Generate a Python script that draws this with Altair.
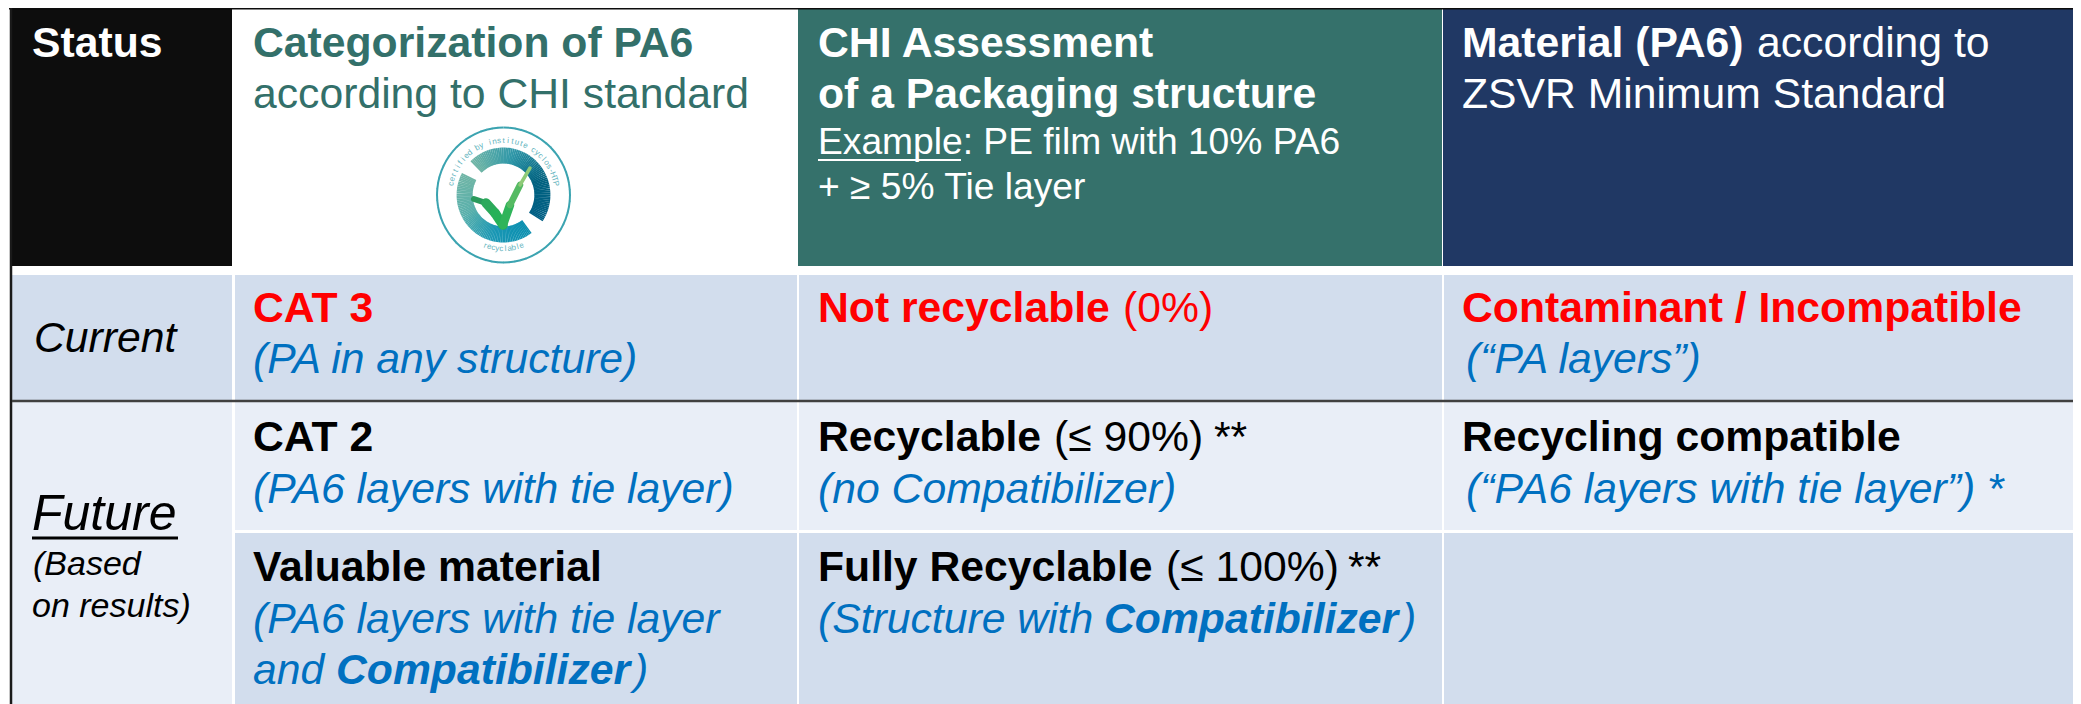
import math
import altair as alt
import pandas as pd

W, H = 2065, 696
FONT = "Liberation Sans"
BLACK, TEAL, NAVY = "#0d0d0d", "#35716b", "#203864"
LIGHT, PALE = "#d2dded", "#e9eef7"
RED, BLUE, TXT = "#ff0000", "#0070c0", "#000000"
M, S = 42.7, 37.2

# x0, x1, y0, y1, fill
cells = [
    (12, 232, 8, 266, BLACK), (232, 798, 8, 266, "#ffffff"),
    (798, 1442, 8, 266, TEAL), (1443, 2081, 8, 266, NAVY),
    (12, 232, 275, 400, LIGHT), (235, 797, 275, 400, LIGHT),
    (799, 1442, 275, 400, LIGHT), (1444, 2081, 275, 400, LIGHT),
    (12, 232, 402, 704, PALE), (235, 797, 402, 530, PALE),
    (799, 1442, 402, 530, PALE), (1444, 2081, 402, 530, PALE),
    (235, 797, 533, 704, LIGHT), (799, 1442, 533, 704, LIGHT),
    (1444, 2081, 533, 704, LIGHT),
]
cell_df = pd.DataFrame(cells, columns=["x0", "x1", "y0", "y1", "fill"])

# x0, x1, y0, y1, colour, width
rules = [
    (9, 2081, 8, 8, "#0d0d0d", 3),
    (11, 11, 8, 704, "#1a1a1a", 2.5),
    (12, 2081, 401, 401, "#404040", 2.5),
    (818, 961, 160, 160, "#ffffff", 2.2),
    (32, 178, 538, 538, "#000000", 2.8),
]
rule_df = pd.DataFrame(rules, columns=["x0", "x1", "y0", "y1", "c", "w"])

# x, baseline, text, size, weight, style, colour
texts = [
    (32, 57, "Status", M, "bold", "normal", "#ffffff"),
    (253, 57, "Categorization of PA6", M, "bold", "normal", "#33706a"),
    (253, 108, "according to CHI standard", M, "normal", "normal", "#33706a"),
    (818, 57, "CHI Assessment", M, "bold", "normal", "#ffffff"),
    (818, 108, "of a Packaging structure", M, "bold", "normal", "#ffffff"),
    (818, 154, "Example: PE film with 10% PA6", S, "normal", "normal", "#ffffff"),
    (818, 199, "+ ≥ 5% Tie layer", S, "normal", "normal", "#ffffff"),
    (1462, 57, "Material (PA6)", M, "bold", "normal", "#ffffff"),
    (1757, 57, "according to", M, "normal", "normal", "#ffffff"),
    (1462, 108, "ZSVR Minimum Standard", M, "normal", "normal", "#ffffff"),
    (34, 352, "Current", M, "normal", "italic", TXT),
    (253, 322, "CAT 3", M, "bold", "normal", RED),
    (253, 373, "(PA in any structure)", M, "normal", "italic", BLUE),
    (818, 322, "Not recyclable", M, "bold", "normal", RED),
    (1123, 322, "(0%)", M, "normal", "normal", RED),
    (1462, 322, "Contaminant / Incompatible", M, "bold", "normal", RED),
    (1466, 373, "(“PA layers”)", M, "normal", "italic", BLUE),
    (32, 530, "Future", 50, "normal", "italic", TXT),
    (33, 575, "(Based", 34, "normal", "italic", TXT),
    (32, 617, "on results)", 34, "normal", "italic", TXT),
    (253, 451, "CAT 2", M, "bold", "normal", TXT),
    (253, 503, "(PA6 layers with tie layer)", M, "normal", "italic", BLUE),
    (818, 451, "Recyclable", M, "bold", "normal", TXT),
    (1054, 451, "(≤ 90%)", M, "normal", "normal", TXT),
    (1214, 451, "**", M, "normal", "normal", TXT),
    (818, 503, "(no Compatibilizer)", M, "normal", "italic", BLUE),
    (1462, 451, "Recycling compatible", M, "bold", "normal", TXT),
    (1466, 503, "(“PA6 layers with tie layer”)", M, "normal", "italic", BLUE),
    (1987, 503, "*", M, "normal", "italic", BLUE),
    (253, 581, "Valuable material", M, "bold", "normal", TXT),
    (253, 633, "(PA6 layers with tie layer", M, "normal", "italic", BLUE),
    (253, 684, "and", M, "normal", "italic", BLUE),
    (336, 684, "Compatibilizer", M, "bold", "italic", BLUE),
    (634, 684, ")", M, "normal", "italic", BLUE),
    (818, 581, "Fully Recyclable", M, "bold", "normal", TXT),
    (1166, 581, "(≤ 100%)", M, "normal", "normal", TXT),
    (1348, 581, "**", M, "normal", "normal", TXT),
    (818, 633, "(Structure with", M, "normal", "italic", BLUE),
    (1104, 633, "Compatibilizer", M, "bold", "italic", BLUE),
    (1402, 633, ")", M, "normal", "italic", BLUE),
]
text_df = pd.DataFrame(texts, columns=["x", "y", "t", "s", "w", "i", "c"])

# ---- logo (seal) ----
LCX, LCY, LRX, LRY = 503.5, 195, 66.5, 67.5
# start/end angle (deg, clockwise from top), radius factor, width, gradient colours
logo_arcs = [
    (0, 360, 1.0, 2, ["#3aa3b0", "#3aa3b0"]),
    (-45, 124, 0.585, 16, ["#6fb5a6", "#2f97a8", "#00617f", "#005f85"]),
    (-62, -217, 0.585, 16, ["#6fb5a6", "#5ab0ab", "#1a97b4", "#0a8fb0"]),
]
logo_check = [(474, 199, 3), (486, 203, 9), (495, 213, 10), (503, 225, 9),
              (510, 205, 8), (520, 185, 5), (530, 168, 2)]
check_cols = ["#2a9a5c", "#2ca95b", "#26b158", "#2fb45a", "#55ba63", "#8fca78"]
ring_top_text = "certified by institute cyclos-HTP"
ring_bottom_text = "recyclable"


def mix(cols, f):
    p = f * (len(cols) - 1)
    i = min(int(p), len(cols) - 2)
    t = p - i
    a = [int(cols[i][k:k + 2], 16) for k in (1, 3, 5)]
    b = [int(cols[i + 1][k:k + 2], 16) for k in (1, 3, 5)]
    return "#%02x%02x%02x" % tuple(round(u + (v - u) * t) for u, v in zip(a, b))


segs = []
for a0, a1, rf, wd, cols in logo_arcs:
    n = 72
    step = (a1 - a0) / n
    for k in range(n):
        t0 = math.radians(a0 + step * k)
        # a slight overlap keeps hairlines from showing between butt-capped pieces
        t1 = math.radians(a0 + step * (k + 1) + (0.4 if step > 0 else -0.4) * (k < n - 1))
        segs.append((LCX + LRX * rf * math.sin(t0), LCY - LRY * rf * math.cos(t0),
                     LCX + LRX * rf * math.sin(t1), LCY - LRY * rf * math.cos(t1),
                     mix(cols, k / n), wd, "butt"))
for (p, q, c) in zip(logo_check[:-1], logo_check[1:], check_cols):
    segs.append((p[0], p[1], q[0], q[1], c, (p[2] + q[2]) / 2, "round"))
seg_df = pd.DataFrame(segs, columns=["x0", "y0", "x1", "y1", "c", "w", "cap"])

ring_chars = []
for idx, ch in enumerate(ring_top_text):
    a = -78 + 156 * idx / (len(ring_top_text) - 1)
    r = 0.8
    ring_chars.append((LCX + LRX * r * math.sin(math.radians(a)),
                       LCY - LRY * r * math.cos(math.radians(a)), ch, (a + 360) % 360))
for idx, ch in enumerate(ring_bottom_text):
    a = 20 - 40 * idx / (len(ring_bottom_text) - 1)
    r = 0.8
    ring_chars.append((LCX + LRX * r * math.sin(math.radians(a + 180)),
                       LCY - LRY * r * math.cos(math.radians(a + 180)), ch, (a + 360) % 360))
ring_df = pd.DataFrame(ring_chars, columns=["x", "y", "t", "a"])

# ---- chart ----
X = alt.Scale(domain=[8, 8 + W], range=[0, W])
Y = alt.Scale(domain=[8, 8 + H], range=[0, H])
ax = dict(axis=None, scale=X)
ay = dict(axis=None, scale=Y)

rect = alt.Chart(cell_df).mark_rect(stroke=None).encode(
    x=alt.X("x0:Q", **ax), x2="x1:Q",
    y=alt.Y("y0:Q", **ay), y2="y1:Q",
    fill=alt.Fill("fill:N", scale=None),
)
rule = alt.Chart(rule_df).mark_rule().encode(
    x=alt.X("x0:Q", **ax), x2="x1:Q",
    y=alt.Y("y0:Q", **ay), y2="y1:Q",
    color=alt.Color("c:N", scale=None),
    strokeWidth=alt.StrokeWidth("w:Q", scale=None),
)
logo_b = alt.Chart(seg_df[seg_df.cap == "butt"]).mark_rule(strokeCap="butt").encode(
    x=alt.X("x0:Q", **ax), x2="x1:Q",
    y=alt.Y("y0:Q", **ay), y2="y1:Q",
    color=alt.Color("c:N", scale=None),
    strokeWidth=alt.StrokeWidth("w:Q", scale=None),
)
logo_r = alt.Chart(seg_df[seg_df.cap == "round"]).mark_rule(strokeCap="round").encode(
    x=alt.X("x0:Q", **ax), x2="x1:Q",
    y=alt.Y("y0:Q", **ay), y2="y1:Q",
    color=alt.Color("c:N", scale=None),
    strokeWidth=alt.StrokeWidth("w:Q", scale=None),
)
ring = alt.Chart(ring_df).mark_text(
    font=FONT, fontSize=8, color="#5fb3bd", align="center", baseline="middle"
).encode(
    x=alt.X("x:Q", **ax), y=alt.Y("y:Q", **ay), text="t:N",
    angle=alt.Angle("a:Q", scale=None),
)


def label_layer(weight, style):
    d = text_df[(text_df.w == weight) & (text_df.i == style)]
    return alt.Chart(d).mark_text(
        font=FONT, fontWeight=weight, fontStyle=style, align="left", baseline="alphabetic"
    ).encode(
        x=alt.X("x:Q", **ax), y=alt.Y("y:Q", **ay), text="t:N",
        size=alt.Size("s:Q", scale=None),
        color=alt.Color("c:N", scale=None),
    )


labels = [label_layer(w, s) for w, s in sorted(set(zip(text_df.w, text_df.i)))]

chart = alt.layer(rect, rule, logo_b, logo_r, ring, *labels).properties(
    width=W, height=H, padding=0, autosize=alt.AutoSizeParams(type="none"),
    background="#ffffff",
).configure_view(stroke=None, clip=False)

chart.save("out.html", embed_options={"renderer": "svg", "actions": False})
